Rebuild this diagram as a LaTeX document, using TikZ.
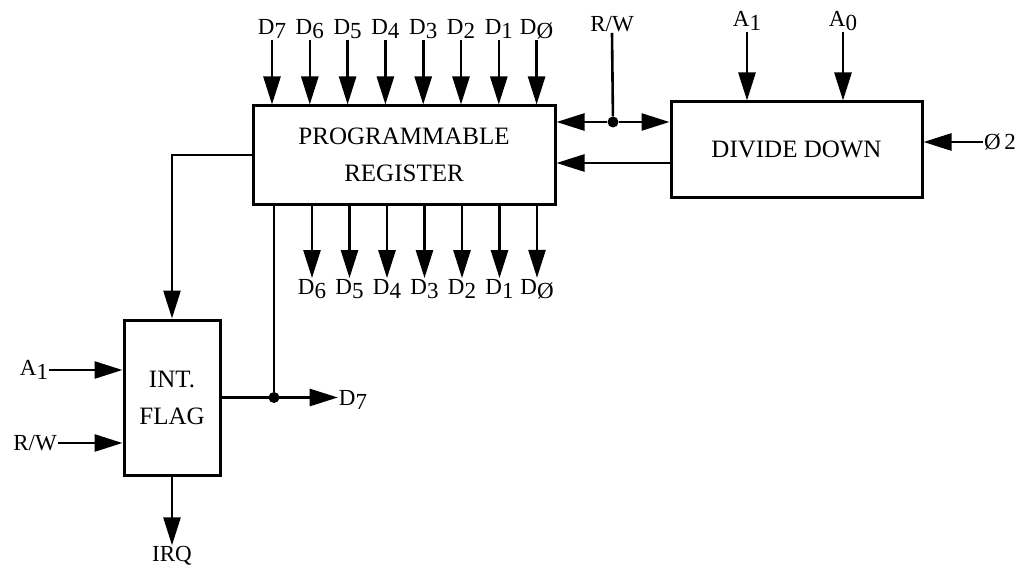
\documentclass[tikz,border=0pt]{standalone}
\usepackage{fontspec}
\setmainfont{Liberation Serif}
\usetikzlibrary{positioning,arrows.meta,calc}

\newcommand\dsub[1]{\raisebox{-0.4ex}{#1}}

\begin{document}
\begin{tikzpicture}[
        x=1pt, y=-1pt,
        blk/.style  ={draw, line width=3pt, font=\fontsize{25}{37}\selectfont, align=center},
        arrow/.style={-{Triangle[length=28pt,width=17pt]}, line width=2.6pt},
        wire/.style ={line width=2.6pt},
        lab/.style  ={font=\fontsize{23}{26}\selectfont, inner sep=1pt},
        dot/.style  ={circle, fill, inner sep=0pt, minimum size=11pt}
    ]
        \useasboundingbox (0,0) rectangle (1023,575);

        % blocks
        \node[blk, minimum width=302pt, minimum height=98pt] (prog)  at (404,155)   {PROGRAMMABLE\\REGISTER};
        \node[blk, minimum width=251pt, minimum height=95pt] (divdn) at (796.5,149.5) {DIVIDE DOWN};
        \node[blk, minimum width=96pt,  minimum height=155pt] (flag) at (172,397.5) {INT.\\FLAG};

        % data bus in
        \foreach \d [count=\i from 0] in {7,6,5,4,3,2,1,\O}{
            \node[lab] (in\i) at ({272+37.8*\i},29) {D\dsub{\d}};
            \draw[arrow] (in\i.south) -- (in\i.south |- prog.north);
        }
        % data bus out
        \foreach \d [count=\i from 0] in {6,5,4,3,2,1,\O}{
            \node[lab] (out\i) at ({312+37.5*\i},289) {D\dsub{\d}};
            \draw[arrow] (prog.south -| out\i) -- (out\i.north);
        }

        % R/W and divide down links
        \node[lab] (rw) at (612,24) {R/W};
        \node[dot] (rwdot) at (613,122) {};
        \draw[wire] (rw.south) -- (rwdot);
        \draw[arrow] (rwdot) -- (prog.east |- rwdot);
        \draw[arrow] (rwdot) -- (divdn.west |- rwdot);
        \draw[arrow] (divdn.west |- 0,163) -- (prog.east |- 0,163);

        \node[lab] (a1) at (747,21) {A\dsub{1}};
        \node[lab] (a0) at (843,21) {A\dsub{0}};
        \draw[arrow] (a1.south) -- (a1.south |- divdn.north);
        \draw[arrow] (a0.south) -- (a0.south |- divdn.north);
        \node[lab] (phi) at (1000,142) {\O\,2};
        \draw[arrow] (phi.west) -- (divdn.east |- phi.west);

        % interrupt flag
        \draw[arrow] (prog.west) -| (flag.north);
        \node[dot] (jd7) at (274,397.5) {};
        \node[lab] (d7) at (353,400) {D\dsub{7}};
        \draw[wire] (prog.south -| jd7) -- (jd7);
        \draw[arrow] (flag.east) -- (d7.west |- jd7);

        \node[lab] (fa1) at (34,370) {A\dsub{1}};
        \node[lab] (frw) at (35,443) {R/W};
        \draw[arrow] (fa1.east) -- (fa1.east -| flag.west);
        \draw[arrow] (frw.east) -- (frw.east -| flag.west);
        \node[lab] (irq) at (172,556) {IRQ};
        \draw[arrow] (flag.south) -- (irq.north);
    \end{tikzpicture}
\end{document}
